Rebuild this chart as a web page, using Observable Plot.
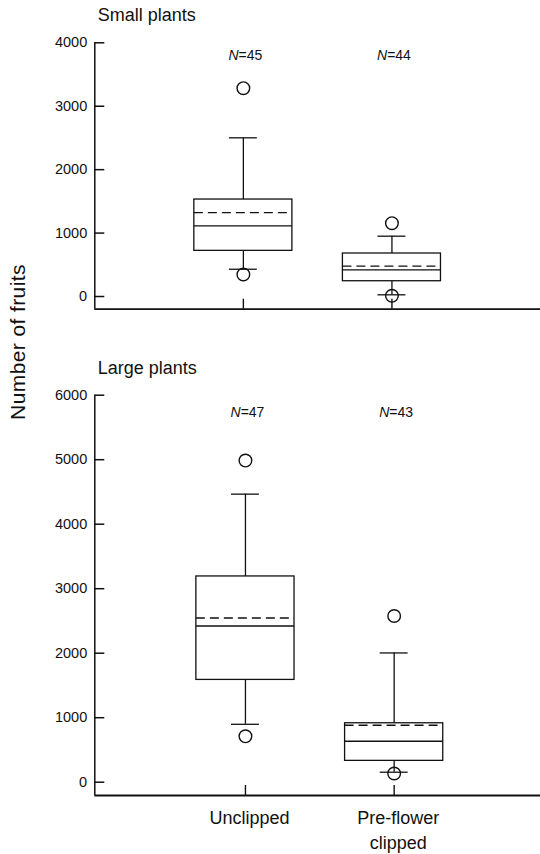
<!DOCTYPE html>
<html>
<head>
<meta charset="utf-8">
<script src="https://cdn.jsdelivr.net/npm/d3@7"></script>
<script src="https://cdn.jsdelivr.net/npm/@observablehq/plot@0.6"></script>
<style>
  body { margin: 0; background: #fff; }
  #wrap { position: relative; width: 540px; height: 854px; font-family: "Liberation Sans", Arial, Helvetica, sans-serif; color: #111; }
  #wrap svg { display: block; }
  #ylab { position: absolute; left: 18px; top: 342px; transform: translate(-50%, -50%) rotate(-90deg); white-space: nowrap; font-size: 21px; letter-spacing: 0.4px; }
</style>
</head>
<body>
<div id="wrap"></div>
<script>
// ---- data ----
const groups = ["Unclipped", "Pre-flower\nclipped"];
const groupPos = [1, 2];
const yAxisLabel = "Number of fruits";

const smallTitle = "Small plants";
const smallN = [45, 44];
const smallLower = [430, 27];
const smallQ1 = [720, 241];
const smallMedian = [1115, 421];
const smallMean = [1324, 478];
const smallQ3 = [1529, 678];
const smallUpper = [2502, 951];
const smallOutlierGroup = [1, 1, 2, 2];
const smallOutlierValue = [3284, 347, 1156, 11];
const smallTicks = [0, 1000, 2000, 3000, 4000];
const smallYDomain = [-200, 4000];

const largeTitle = "Large plants";
const largeN = [47, 43];
const largeLower = [898, 155];
const largeQ1 = [1586, 331];
const largeMedian = [2422, 635];
const largeMean = [2546, 883];
const largeQ3 = [3190, 914];
const largeUpper = [4466, 2004];
const largeOutlierGroup = [1, 1, 2, 2];
const largeOutlierValue = [4987, 712, 2577, 135];
const largeTicks = [0, 1000, 2000, 3000, 4000, 5000, 6000];
const largeYDomain = [-206, 6000];

const FONT = '"Liberation Sans", Arial, Helvetica, sans-serif';
const INK = "#111";

function panel(cfg) {
  const rows = groupPos.map((p, i) => ({
    pos: p, n: cfg.n[i], lower: cfg.lower[i], q1: cfg.q1[i], median: cfg.median[i],
    mean: cfg.mean[i], q3: cfg.q3[i], upper: cfg.upper[i]
  }));
  const outliers = cfg.outGroup.map((g, i) => ({pos: g, value: cfg.outValue[i]}));
  const W = 540;
  const fw = W - cfg.marginLeft;
  const fh = cfg.height - cfg.marginTop - cfg.marginBottom;
  const hw = 0.33, cw = 0.094;
  const marks = [
    Plot.ruleX([cfg.xDomain[0]], {x: d => d, stroke: INK, strokeWidth: 1.5}),
    Plot.ruleY([cfg.yDomain[0]], {y: d => d, stroke: INK, strokeWidth: 1.8}),
    Plot.ruleY(cfg.ticks, {y: d => d, insetRight: fw - 10, stroke: INK, strokeWidth: 1.5}),
    Plot.ruleX(groupPos, {x: d => d, insetTop: fh - 10, stroke: INK, strokeWidth: 1.4}),
    Plot.axisY({ticks: cfg.ticks, tickSize: 0, tickPadding: 7.6, tickFormat: d3.format("d"), fontSize: 14.5, label: null}),
    // boxes
    Plot.rect(rows, {x1: d => d.pos - hw, x2: d => d.pos + hw, y1: "q1", y2: "q3", fill: "none", stroke: INK, strokeWidth: 1.3}),
    Plot.ruleY(rows, {y: "median", x1: d => d.pos - hw, x2: d => d.pos + hw, stroke: INK, strokeWidth: 1.3}),
    Plot.ruleY(rows, {y: "mean", x1: d => d.pos - hw, x2: d => d.pos + hw, stroke: INK, strokeWidth: 1.3, strokeDasharray: "9,5"}),
    // whiskers
    Plot.ruleX(rows, {x: "pos", y1: "q3", y2: "upper", stroke: INK, strokeWidth: 1.3}),
    Plot.ruleX(rows, {x: "pos", y1: "lower", y2: "q1", stroke: INK, strokeWidth: 1.3}),
    Plot.ruleY(rows, {y: "upper", x1: d => d.pos - cw, x2: d => d.pos + cw, stroke: INK, strokeWidth: 1.3}),
    Plot.ruleY(rows, {y: "lower", x1: d => d.pos - cw, x2: d => d.pos + cw, stroke: INK, strokeWidth: 1.3}),
    // outliers
    Plot.dot(outliers, {x: "pos", y: "value", r: 6.3, fill: "none", stroke: INK, strokeWidth: 1.4}),
    // N labels
    Plot.text(rows, {x: "pos", frameAnchor: "top", lineAnchor: "middle", dy: cfg.nDy, dx: -4.8, text: () => "N", fontStyle: "italic", textAnchor: "end", fontSize: 14, fill: INK}),
    Plot.text(rows, {x: "pos", frameAnchor: "top", lineAnchor: "middle", dy: cfg.nDy, dx: -4.8, text: d => "=" + d.n, textAnchor: "start", fontSize: 14, fill: INK}),
    // panel title
    Plot.text([cfg.title], {frameAnchor: "top-left", lineAnchor: "middle", text: d => d, textAnchor: "start", dx: cfg.titleDx, dy: cfg.titleDy, fontSize: 18, letterSpacing: "0.2px", fill: INK})
  ];
  if (cfg.showX) {
    marks.push(Plot.axisX({
      ticks: groupPos, tickSize: 0, tickPadding: 10.7, label: null,
      tickFormat: d => groups[groupPos.indexOf(d)],
      fontSize: 18, lineHeight: 1.39, dx: 4
    }));
  }
  return Plot.plot({
    width: W, height: cfg.height,
    marginLeft: cfg.marginLeft, marginRight: 0, marginTop: cfg.marginTop, marginBottom: cfg.marginBottom,
    style: {fontFamily: FONT, fontSize: "14px", color: INK, background: "#fff"},
    x: {type: "linear", domain: cfg.xDomain, ...(cfg.showX ? {} : {axis: null})},
    y: {type: "linear", domain: cfg.yDomain},
    marks
  });
}

const wrap = document.getElementById("wrap");
wrap.appendChild(panel({
  title: smallTitle, n: smallN, lower: smallLower, q1: smallQ1, median: smallMedian, mean: smallMean,
  q3: smallQ3, upper: smallUpper, outGroup: smallOutlierGroup, outValue: smallOutlierValue,
  ticks: smallTicks, yDomain: smallYDomain, xDomain: [0, 3],
  height: 335, marginTop: 42.3, marginBottom: 26.3, marginLeft: 94.3,
  titleDx: 3, titleDy: -27.3, nDy: 13, showX: false
}));
wrap.appendChild(panel({
  title: largeTitle, n: largeN, lower: largeLower, q1: largeQ1, median: largeMedian, mean: largeMean,
  q3: largeQ3, upper: largeUpper, outGroup: largeOutlierGroup, outValue: largeOutlierValue,
  ticks: largeTicks, yDomain: largeYDomain, xDomain: [-0.013, 2.984],
  height: 519, marginTop: 59.7, marginBottom: 59, marginLeft: 94.3,
  titleDx: 3, titleDy: -26.7, nDy: 17.4, showX: true
}));
const yl = document.createElement("div");
yl.id = "ylab";
yl.textContent = yAxisLabel;
wrap.appendChild(yl);
</script>
</body>
</html>
